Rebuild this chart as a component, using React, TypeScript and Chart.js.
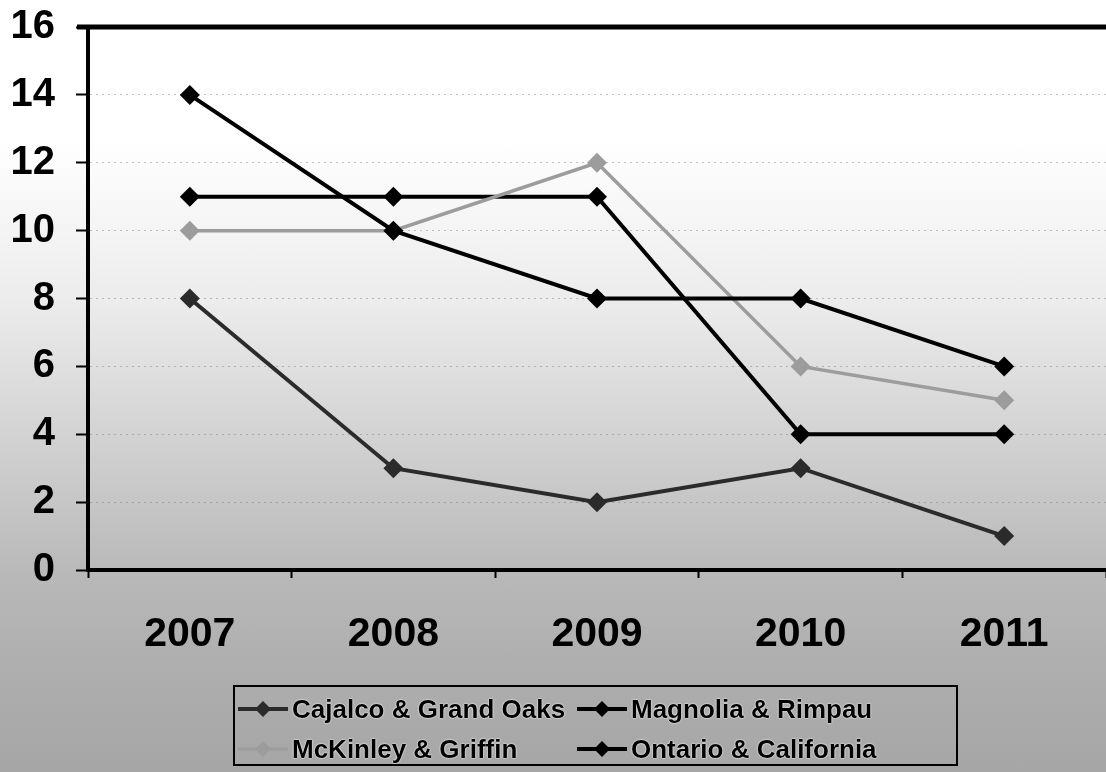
import React, { useEffect, useRef } from "react";
import { Chart, registerables } from "chart.js";

Chart.register(...registerables);

const years = ["2007", "2008", "2009", "2010", "2011"];
const cajalco = [8, 3, 2, 3, 1];
const magnolia = [14, 10, 8, 8, 6];
const mckinley = [10, 10, 12, 6, 5];
const ontario = [11, 11, 11, 4, 4];
const yMin = 0;
const yMax = 16;
const yStep = 2;

const seriesNames = [
  "Cajalco & Grand Oaks",
  "Magnolia & Rimpau",
  "McKinley & Griffin",
  "Ontario & California",
];
const seriesColors = ["#2b2b2b", "#000000", "#9c9c9c", "#000000"];

const FONT = "'Liberation Sans', Arial, Helvetica, sans-serif";

const topBorder = {
  id: "topBorder",
  afterDraw(chart: any) {
    const { ctx, chartArea } = chart;
    ctx.save();
    ctx.strokeStyle = "#000";
    ctx.lineWidth = 5;
    ctx.beginPath();
    ctx.moveTo(chartArea.left - 11, chartArea.top);
    ctx.lineTo(chartArea.right + 5, chartArea.top);
    ctx.stroke();
    ctx.restore();
  },
};

function LegendMark({ color, thin }: { color: string; thin?: boolean }) {
  return (
    <svg width="50" height="20" style={{ display: "block", flex: "none" }}>
      <line x1="0" y1="10" x2="50" y2="10" stroke={color} strokeWidth={thin ? 3 : 4} />
      <polygon points="25,2 33,10 25,18 17,10" fill={color} />
    </svg>
  );
}

export default function App() {
  const ref = useRef<HTMLCanvasElement | null>(null);

  useEffect(() => {
    document.body.style.margin = "0";
    const values = [cajalco, magnolia, mckinley, ontario];
    const chart = new Chart(ref.current as HTMLCanvasElement, {
      type: "line",
      data: {
        labels: years,
        datasets: values.map((v, i) => ({
          label: seriesNames[i],
          data: v,
          borderColor: seriesColors[i],
          backgroundColor: seriesColors[i],
          borderWidth: i === 2 ? 3.5 : 4,
          pointStyle: "rectRot",
          pointRadius: 10,
          pointBorderWidth: 0,
          pointBackgroundColor: seriesColors[i],
          tension: 0,
          fill: false,
        })),
      },
      options: {
        responsive: false,
        animation: false,
        layout: { autoPadding: false, padding: { top: 27, right: 0, bottom: 0, left: 0 } },
        plugins: {
          legend: { display: false },
          tooltip: { enabled: false },
        },
        scales: {
          x: {
            offset: true,
            grid: {
              offset: true,
              drawOnChartArea: false,
              drawTicks: true,
              tickLength: 8,
              tickColor: "#000",
              tickWidth: 2,
            },
            border: { display: true, color: "#000", width: 4 },
            ticks: {
              color: "#000",
              padding: 32,
              font: { family: FONT, size: 41, weight: "bold" },
            },
            afterFit: (s: any) => {
              s.height = 772 - 570;
              s.paddingLeft = 0;
              s.paddingRight = 0;
            },
          },
          y: {
            min: yMin,
            max: yMax,
            ticks: {
              stepSize: yStep,
              color: "#000",
              padding: 21,
              font: { family: FONT, size: 40, weight: "bold" },
            },
            grid: {
              color: "rgba(110,110,110,0.4)",
              lineWidth: 1,
              drawTicks: true,
              tickLength: 12,
              tickColor: "#000",
              tickWidth: 2,
            },
            border: { display: true, color: "#000", width: 4, dash: [2, 4] },
            afterFit: (s: any) => {
              s.width = 88;
              s.paddingTop = 0;
              s.paddingBottom = 0;
            },
          },
        },
      },
      plugins: [topBorder],
    });
    return () => chart.destroy();
  }, []);

  const items = [
    { i: 0, left: 3, top: 11 },
    { i: 1, left: 342, top: 11 },
    { i: 2, left: 3, top: 51 },
    { i: 3, left: 342, top: 51 },
  ];

  return (
    <div
      style={{
        position: "fixed",
        left: 0,
        top: 0,
        width: 1106,
        height: 772,
        overflow: "hidden",
        background:
          "linear-gradient(to bottom, #ffffff 0px, #ffffff 140px, #ececec 300px, #d0d0d0 450px, #b9b9b9 570px, #adadad 680px, #a6a6a6 772px)",
      }}
    >
      <canvas ref={ref} width={1106} height={772} style={{ position: "absolute", left: 0, top: 0 }} />
      <div
        style={{
          position: "absolute",
          left: 233,
          top: 685,
          width: 721,
          height: 77,
          border: "2px solid #000",
        }}
      >
        {items.map(({ i, left, top }) => (
          <div
            key={i}
            style={{
              position: "absolute",
              left,
              top,
              height: 22,
              display: "flex",
              alignItems: "center",
              gap: 4,
              fontFamily: FONT,
              fontWeight: "bold",
              fontSize: 26,
              color: "#000",
              whiteSpace: "nowrap",
              textShadow: "0 0 2px #fff, 0 0 1px #fff",
            }}
          >
            <LegendMark color={seriesColors[i]} thin={i === 2} />
            <span>{seriesNames[i]}</span>
          </div>
        ))}
      </div>
    </div>
  );
}
